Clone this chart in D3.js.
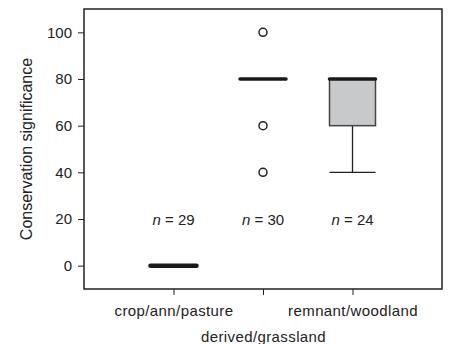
<!DOCTYPE html>
<html>
<head>
<meta charset="utf-8">
<script src="https://cdn.jsdelivr.net/npm/d3@7"></script>
<style>
  body { margin: 0; background: #fff; }
  text { font-family: "Liberation Sans", Arial, sans-serif; fill: #222; }
</style>
</head>
<body>
<div id="chart"></div>
<script>
// data
const categories = ['crop/ann/pasture', 'derived/grassland', 'remnant/woodland'];
const q1 = [0, 80, 60];
const median = [0, 80, 80];
const q3 = [0, 80, 80];
const whiskerLow = [0, 80, 40];
const whiskerHigh = [0, 80, 80];
const outliers = [[], [100, 60, 40], []];
const counts = [29, 30, 24];
const yTicks = [0, 20, 40, 60, 80, 100];

const W = 449, H = 344;
const margin = { top: 9, right: 7, bottom: 55, left: 84 };
const width = W - margin.left - margin.right;
const height = H - margin.top - margin.bottom;
const fs = '15px';

const svg = d3.select('#chart').append('svg')
  .attr('width', W).attr('height', H)
  .append('g')
  .attr('transform', `translate(${margin.left},${margin.top})`);

const x = d3.scalePoint().domain(categories).range([0, width]).padding(1);
const y = d3.scaleLinear().domain([-10, 110]).range([height, 0]);
const boxW = 46;

// frame
svg.append('rect')
  .attr('width', width).attr('height', height)
  .attr('fill', 'none').attr('stroke', '#222').attr('stroke-width', 1.5);

// axes
const yAxis = svg.append('g').call(d3.axisLeft(y).tickValues(yTicks).tickSize(6).tickPadding(6));
const xAxis = svg.append('g').attr('transform', `translate(0,${height})`)
  .call(d3.axisBottom(x).tickSize(6).tickPadding(10));
[yAxis, xAxis].forEach(a => {
  a.select('.domain').remove();
  a.selectAll('line').attr('stroke', '#222');
  a.selectAll('text').style('font-size', fs).attr('fill', '#222');
});
// middle label sits on a second line
xAxis.selectAll('.tick text')
  .attr('dy', (d, i) => i === 1 ? '2.45em' : '0.71em')
  .style('letter-spacing', '0.4px');

svg.append('text')
  .attr('transform', `translate(${-52},${height / 2}) rotate(-90)`)
  .attr('text-anchor', 'middle')
  .style('font-size', '16px')
  .text('Conservation significance');

const data = categories.map((c, i) => ({
  c, q1: q1[i], med: median[i], q3: q3[i], lo: whiskerLow[i], hi: whiskerHigh[i], out: outliers[i], n: counts[i]
}));

const g = svg.selectAll('.box').data(data).join('g').attr('class', 'box');

// whiskers
g.filter(d => d.lo < d.q1).append('line')
  .attr('x1', d => x(d.c)).attr('x2', d => x(d.c))
  .attr('y1', d => y(d.q1)).attr('y2', d => y(d.lo))
  .attr('stroke', '#222').attr('stroke-width', 1.3);
g.filter(d => d.lo < d.q1).append('line')
  .attr('x1', d => x(d.c) - boxW / 2).attr('x2', d => x(d.c) + boxW / 2)
  .attr('y1', d => y(d.lo)).attr('y2', d => y(d.lo))
  .attr('stroke', '#222').attr('stroke-width', 1.3);

// boxes
g.filter(d => d.q3 > d.q1).append('rect')
  .attr('x', d => x(d.c) - boxW / 2).attr('width', boxW)
  .attr('y', d => y(d.q3)).attr('height', d => y(d.q1) - y(d.q3))
  .attr('fill', '#c8c9cb').attr('stroke', '#444').attr('stroke-width', 1.5);

// medians
g.append('line')
  .attr('x1', d => x(d.c) - boxW / 2).attr('x2', d => x(d.c) + boxW / 2)
  .attr('y1', d => y(d.med)).attr('y2', d => y(d.med))
  .attr('stroke', '#1a1a1a').attr('stroke-width', d => d.med === 0 ? 4.5 : 3.5)
  .attr('stroke-linecap', 'round');

// outliers
g.selectAll('circle').data(d => d.out.map(v => ({ c: d.c, v }))).join('circle')
  .attr('cx', d => x(d.c)).attr('cy', d => y(d.v)).attr('r', 4)
  .attr('fill', 'none').attr('stroke', '#222').attr('stroke-width', 1.5);

// n labels
const nt = g.append('text')
  .attr('x', d => x(d.c)).attr('y', y(20) + 6)
  .attr('text-anchor', 'middle').style('font-size', fs);
nt.append('tspan').style('font-style', 'italic').text('n');
nt.append('tspan').text(d => ` = ${d.n}`);
</script>
</body>
</html>
